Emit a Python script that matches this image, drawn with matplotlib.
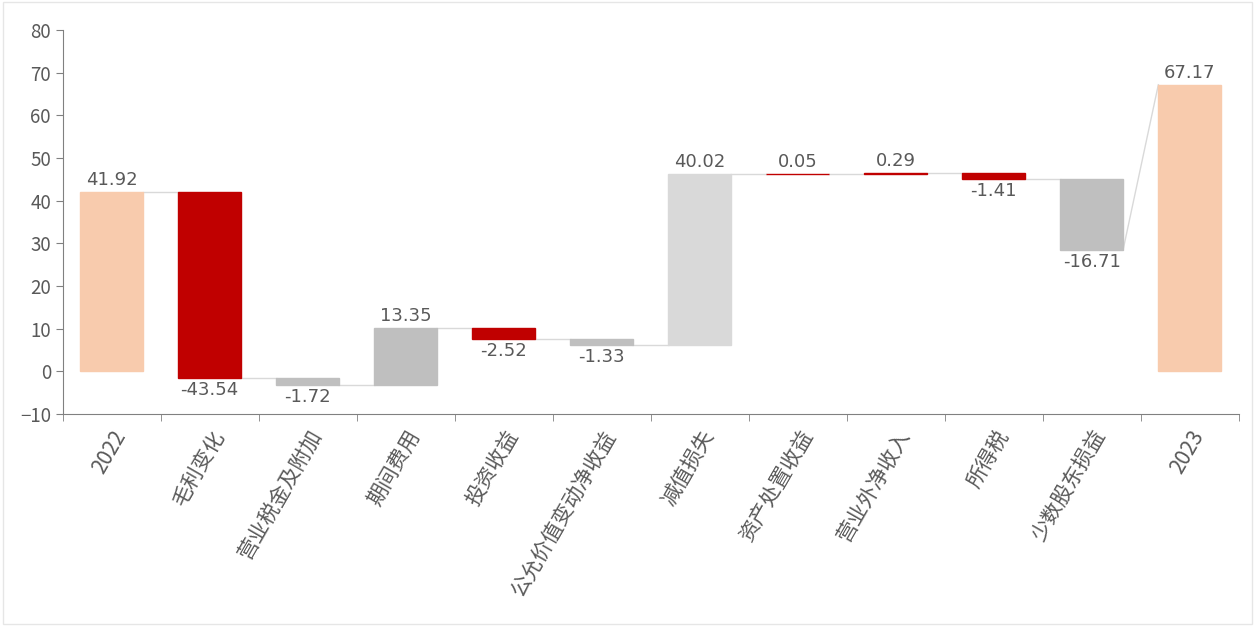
import numpy as np
import matplotlib.pyplot as plt
from matplotlib.patches import Rectangle

plt.rcParams['font.family'] = ['Noto Sans CJK SC', 'DejaVu Sans']

cats = ['2022', '毛利变化', '营业税金及附加', '期间费用', '投资收益', '公允价值变动净收益',
        '减值损失', '资产处置收益', '营业外净收入', '所得税', '少数股东损益', '2023']
vals = [41.92, -43.54, -1.72, 13.35, -2.52, -1.33, 40.02, 0.05, 0.29, -1.41, -16.71, 67.17]
is_total = [True, False, False, False, False, False, False, False, False, False, False, True]
colors = ['#F8CBAD', '#C00000', '#BFBFBF', '#BFBFBF', '#C00000', '#BFBFBF',
          '#D9D9D9', '#C00000', '#C00000', '#C00000', '#BFBFBF', '#F8CBAD']

txt = '#595959'
w = 0.64

fig = plt.figure(figsize=(12.55, 6.26), dpi=100)
ax = fig.add_axes([0.050, 0.339, 0.937, 0.613])

x = np.arange(len(cats))
starts, ends = [], []
cum = 0
for i, v in enumerate(vals):
    if is_total[i]:
        s, e = 0, v
        cum = v
    else:
        s, e = cum, cum + v
        cum = e
    starts.append(s)
    ends.append(e)

bottoms = [min(s, e) for s, e in zip(starts, ends)]
heights = [abs(e - s) for s, e in zip(starts, ends)]
ax.bar(x, heights, bottom=bottoms, width=w, color=colors, edgecolor=colors, linewidth=1, zorder=2)

# connectors
for i in range(len(cats) - 1):
    y0 = ends[i]
    y1 = ends[i + 1] if is_total[i + 1] else starts[i + 1]
    ax.plot([x[i] + w / 2, x[i + 1] - w / 2], [y0, y1], color='#D9D9D9', lw=1, zorder=1)

# labels
for i, v in enumerate(vals):
    if is_total[i] or v >= 0:
        ax.text(x[i], max(starts[i], ends[i]) + 0.7, f'{v:.2f}', ha='center', va='bottom',
                fontsize=13, color=txt, family='DejaVu Sans')
    else:
        ax.text(x[i], min(starts[i], ends[i]) - 0.7, f'{v:.2f}', ha='center', va='top',
                fontsize=13, color=txt, family='DejaVu Sans')

ax.set_ylim(-10, 80)
ax.set_yticks(range(-10, 81, 10))
ax.set_xlim(-0.5, len(cats) - 0.5)
ax.set_xticks(x)
ax.set_xticklabels(cats, rotation=60, ha='right', rotation_mode='anchor', fontsize=15, color=txt)
ax.tick_params(axis='x', length=0, pad=9)
ax.set_xticks(np.arange(-0.5, len(cats), 1), minor=True)
ax.tick_params(axis='x', which='minor', length=5, color='#808080')
ax.tick_params(axis='y', length=5, color='#808080', labelsize=13.5, labelcolor=txt)

for s in ['top', 'right']:
    ax.spines[s].set_visible(False)
for s in ['left', 'bottom']:
    ax.spines[s].set_color('#808080')

fig.patches.append(Rectangle((0.002, 0.003), 0.996, 0.994, transform=fig.transFigure,
                             fill=False, edgecolor='#E6E6E6', lw=1))

fig.savefig('out.png', dpi=100)
